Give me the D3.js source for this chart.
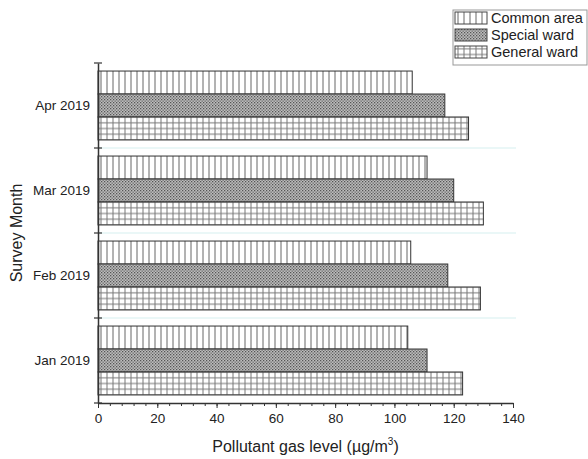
<!DOCTYPE html>
<html>
<head>
<meta charset="utf-8">
<script src="https://cdn.jsdelivr.net/npm/d3@7"></script>
<style>
  body { margin: 0; background: #fff; }
  svg { font-family: "Liberation Sans", Arial, sans-serif; }
</style>
</head>
<body>
<svg id="chart" width="588" height="459"></svg>
<script>
// months top to bottom, as in the figure
var months = ["Apr 2019", "Mar 2019", "Feb 2019", "Jan 2019"];
var series = ["Common area", "Special ward", "General ward"];
var commonArea = [106, 111, 105.5, 104.5];
var specialWard = [117, 120, 118, 111];
var generalWard = [125, 130, 129, 123];
var xTicks = [0, 20, 40, 60, 80, 100, 120, 140];

var values = {"Common area": commonArea, "Special ward": specialWard, "General ward": generalWard};
var patternId = {"Common area": "pVert", "Special ward": "pHatch", "General ward": "pGrid"};

var svg = d3.select("#chart");
var margin = {top: 63, left: 98, right: 75, bottom: 56};
var width = 588 - margin.left - margin.right,
    height = 459 - margin.top - margin.bottom;

// patterns
var defs = svg.append("defs");
var pv = defs.append("pattern").attr("id", "pVert").attr("patternUnits", "userSpaceOnUse")
  .attr("width", 6).attr("height", 6);
pv.append("rect").attr("width", 6).attr("height", 6).attr("fill", "#fff");
pv.append("line").attr("x1", 3).attr("x2", 3).attr("y1", 0).attr("y2", 6)
  .attr("stroke", "#666").attr("stroke-width", 1);

var ph = defs.append("pattern").attr("id", "pHatch").attr("patternUnits", "userSpaceOnUse")
  .attr("width", 3).attr("height", 3);
ph.append("rect").attr("width", 3).attr("height", 3).attr("fill", "#bdbdbd");
ph.append("rect").attr("x", 0).attr("y", 0).attr("width", 1.3).attr("height", 1.3).attr("fill", "#555");
ph.append("rect").attr("x", 1.5).attr("y", 1.5).attr("width", 1.3).attr("height", 1.3).attr("fill", "#666");

var pg = defs.append("pattern").attr("id", "pGrid").attr("patternUnits", "userSpaceOnUse")
  .attr("width", 6).attr("height", 5.7);
pg.append("rect").attr("width", 6).attr("height", 5.7).attr("fill", "#fff");
pg.append("line").attr("x1", 3).attr("x2", 3).attr("y1", 0).attr("y2", 5.7)
  .attr("stroke", "#777").attr("stroke-width", 1);
pg.append("line").attr("x1", 0).attr("x2", 6).attr("y1", 2.8).attr("y2", 2.8)
  .attr("stroke", "#777").attr("stroke-width", 1);

var g = svg.append("g").attr("transform", "translate(" + margin.left + "," + margin.top + ")");

var x = d3.scaleLinear().domain([0, 140]).range([0, width]);
var y0 = d3.scaleBand().domain(months).range([0, height]).padding(0);
var y1 = d3.scaleBand().domain(series).range([0, y0.bandwidth()]).paddingInner(0).paddingOuter(0.35);

// pale separators between months
g.selectAll(".sep")
  .data(months.slice(1))
  .enter().append("line")
  .attr("x1", 0).attr("x2", x(140) + 3)
  .attr("y1", function(d) { return y0(d); })
  .attr("y2", function(d) { return y0(d); })
  .attr("stroke", "#eaf7f7").attr("stroke-width", 2);

// bars
var groups = g.selectAll(".month")
  .data(months)
  .enter().append("g")
  .attr("class", "month")
  .attr("transform", function(d) { return "translate(0," + y0(d) + ")"; });

groups.selectAll("rect")
  .data(function(d, i) { return series.map(function(s) { return {s: s, v: values[s][i]}; }); })
  .enter().append("rect")
  .attr("x", x(0))
  .attr("y", function(d) { return y1(d.s); })
  .attr("width", function(d) { return x(d.v) - x(0); })
  .attr("height", y1.bandwidth())
  .attr("fill", function(d) { return "url(#" + patternId[d.s] + ")"; })
  .attr("stroke", "#333")
  .attr("stroke-width", 1);

// x axis, minor then major
g.append("g")
  .attr("transform", "translate(0," + height + ")")
  .call(d3.axisBottom(x).tickValues(d3.range(0, 141, 4)).tickSize(3).tickFormat(""))
  .call(function(a) { a.select(".domain").remove(); a.selectAll("line").attr("stroke", "#333"); });

var xAxis = g.append("g")
  .attr("transform", "translate(0," + height + ")")
  .call(d3.axisBottom(x).tickValues(xTicks).tickSize(5).tickSizeOuter(0).tickPadding(5));
xAxis.select(".domain").attr("stroke", "#333").attr("stroke-width", 1.5);
xAxis.selectAll("line").attr("stroke", "#333");
xAxis.selectAll("text").attr("font-size", 13.5).attr("fill", "#222");

// y axis: labels centred on bands, ticks on band edges
var yAxis = g.append("g")
  .call(d3.axisLeft(y0).tickSize(0).tickPadding(8));
yAxis.select(".domain").attr("stroke", "#333").attr("stroke-width", 1.5);
yAxis.selectAll("text").attr("font-size", 13.5).attr("fill", "#222");

var edges = months.map(function(m) { return y0(m); }).concat([y0.range()[1]]);
g.selectAll(".ytick")
  .data(edges)
  .enter().append("line")
  .attr("x1", -4).attr("x2", 4)
  .attr("y1", function(d) { return d; }).attr("y2", function(d) { return d; })
  .attr("stroke", "#333").attr("stroke-width", 1.2);

// axis titles
var xt = svg.append("text")
  .attr("x", margin.left + width / 2).attr("y", 452)
  .attr("text-anchor", "middle").attr("font-size", 16).attr("fill", "#222");
xt.append("tspan").text("Pollutant gas level (µg/m");
xt.append("tspan").attr("font-size", 10).attr("dy", -7).text("3");
xt.append("tspan").attr("dy", 7).text(")");

svg.append("text")
  .attr("transform", "translate(22," + (margin.top + height / 2) + ") rotate(-90)")
  .attr("text-anchor", "middle").attr("font-size", 16).attr("fill", "#222")
  .text("Survey Month");

// legend
var leg = svg.append("g").attr("transform", "translate(453,10)");
leg.append("rect").attr("width", 134).attr("height", 55)
  .attr("fill", "#fff").attr("stroke", "#999").attr("stroke-width", 1);
var li = leg.selectAll(".li")
  .data(series)
  .enter().append("g")
  .attr("transform", function(d, i) { return "translate(2," + (2 + i * 17) + ")"; });
li.append("rect").attr("width", 32).attr("height", 12)
  .attr("fill", function(d) { return "url(#" + patternId[d] + ")"; })
  .attr("stroke", "#444").attr("stroke-width", 1);
li.append("text").attr("x", 36).attr("y", 11).attr("font-size", 14.5).attr("fill", "#222")
  .text(function(d) { return d; });
</script>
</body>
</html>
